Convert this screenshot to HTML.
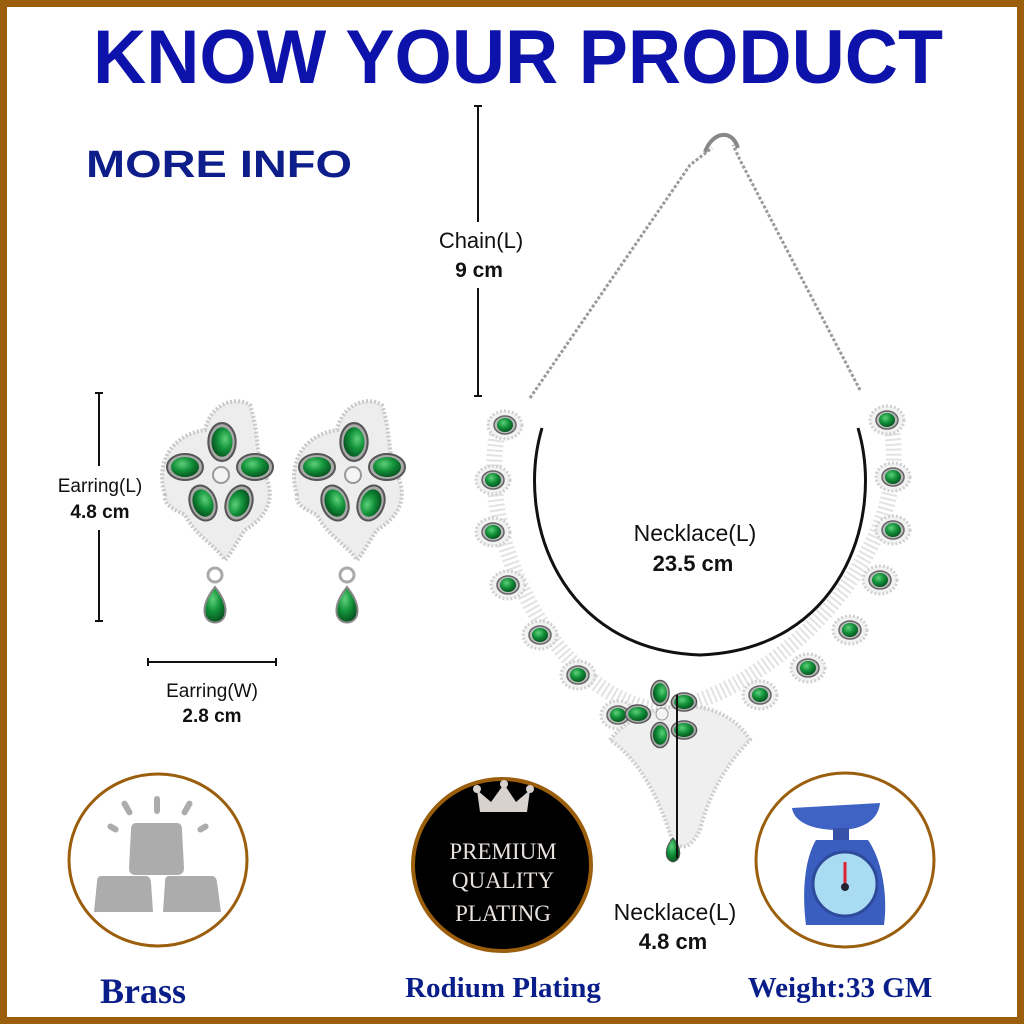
<!DOCTYPE html>
<html><head><meta charset="utf-8"><style>
html,body{margin:0;padding:0;background:#fff}
svg{display:block}
</style></head><body>
<svg width="1024" height="1024" viewBox="0 0 1024 1024" xmlns="http://www.w3.org/2000/svg">
<defs>
<radialGradient id="g" cx="40%" cy="35%" r="70%"><stop offset="0" stop-color="#5fd07a"/><stop offset="0.5" stop-color="#12913a"/><stop offset="1" stop-color="#064d1c"/></radialGradient>
<g id="pd"><ellipse cx="0" cy="0" rx="17" ry="14" fill="#f2f2f2" stroke="#d0d0d0" stroke-width="3" stroke-dasharray="2 2"/><ellipse cx="0" cy="0" rx="11" ry="9" fill="#bbb" stroke="#666" stroke-width="1.5"/><ellipse cx="0" cy="0" rx="8" ry="7" fill="url(#g)"/></g>
<g id="ptl"><ellipse cx="0" cy="0" rx="18" ry="13" fill="#aaa" stroke="#555" stroke-width="2"/><ellipse cx="0" cy="0" rx="14" ry="10" fill="url(#g)"/></g>
<g id="ear">
<path d="M-60,20 C-70,-10 -55,-40 -20,-45 C-15,-70 10,-80 25,-70 C35,-40 30,-20 40,0 C50,20 45,40 20,55 C10,70 5,80 0,85 C-10,70 -30,60 -40,40 C-50,35 -62,30 -60,20Z" fill="#ededed" stroke="#c8c8c8" stroke-width="4" stroke-dasharray="2 2"/>
<use href="#ptl" transform="translate(-3,-33) rotate(90) scale(1.05)"/>
<use href="#ptl" transform="translate(-40,-8)"/>
<use href="#ptl" transform="translate(30,-8)"/>
<use href="#ptl" transform="translate(-22,28) rotate(70)"/>
<use href="#ptl" transform="translate(14,28) rotate(-70)"/>
<circle cx="-4" cy="0" r="8" fill="#f4f4f4" stroke="#999" stroke-width="2"/>
<circle cx="-10" cy="100" r="7" fill="none" stroke="#aaa" stroke-width="3"/>
<path d="M-10,112 C-18,122 -22,132 -20,140 C-17,150 -3,150 0,140 C2,132 -2,122 -10,112Z" fill="url(#g)" stroke="#888" stroke-width="2"/>
</g>
</defs>
<rect x="3.5" y="3.5" width="1017" height="1017" fill="#fff" stroke="#9a5e0c" stroke-width="7"/>
<text x="518" y="83" text-anchor="middle" font-family="Liberation Sans, sans-serif" font-weight="bold" font-size="76" fill="#0d12aa" textLength="850" lengthAdjust="spacingAndGlyphs">KNOW YOUR PRODUCT</text>
<text x="86" y="177" font-family="Liberation Sans, sans-serif" font-weight="bold" font-size="38" fill="#0d1d8a" textLength="266" lengthAdjust="spacingAndGlyphs">MORE  INFO</text>

<g stroke="#111" stroke-width="2">
<line x1="478" y1="106" x2="478" y2="222"/><line x1="478" y1="288" x2="478" y2="396"/><line x1="474" y1="106" x2="482" y2="106"/><line x1="474" y1="396" x2="482" y2="396"/>
<line x1="99" y1="393" x2="99" y2="466"/><line x1="99" y1="530" x2="99" y2="621"/><line x1="95" y1="393" x2="103" y2="393"/><line x1="95" y1="621" x2="103" y2="621"/>
<line x1="148" y1="662" x2="276" y2="662"/><line x1="148" y1="658" x2="148" y2="666"/><line x1="276" y1="658" x2="276" y2="666"/>
</g>
<g font-family="Liberation Sans, sans-serif" fill="#111" text-anchor="middle">
<text x="481" y="248" font-size="22">Chain(L)</text><text x="479" y="277" font-size="21" font-weight="bold">9 cm</text>
<text x="100" y="492" font-size="19">Earring(L)</text><text x="100" y="518" font-size="19" font-weight="bold">4.8 cm</text>
<text x="212" y="697" font-size="19">Earring(W)</text><text x="212" y="722" font-size="19" font-weight="bold">2.8 cm</text>
<text x="695" y="541" font-size="23">Necklace(L)</text><text x="693" y="571" font-size="22" font-weight="bold">23.5 cm</text>
<text x="675" y="920" font-size="23">Necklace(L)</text><text x="673" y="949" font-size="22" font-weight="bold">4.8 cm</text>
</g>

<use href="#ear" transform="translate(225,475)"/>
<use href="#ear" transform="translate(357,475)"/>

<g fill="none" stroke="#9a9a9a" stroke-width="3" stroke-dasharray="3 2">
<path d="M530,398 L690,165 L712,148"/>
<path d="M860,390 L740,160 L733,145"/>
</g>
<path d="M705,152 C712,132 732,128 738,148" fill="none" stroke="#888" stroke-width="4"/>
<path d="M542,428 C515,520 560,650 700,655 C840,650 885,520 858,428" fill="none" stroke="#111" stroke-width="3"/>
<path d="M500,420 C470,540 560,700 660,710 C760,700 920,560 890,420" fill="none" stroke="#e2e2e2" stroke-width="16" stroke-dasharray="2 3"/>
<use href="#pd" transform="translate(505,425)"/>
<use href="#pd" transform="translate(493,480)"/>
<use href="#pd" transform="translate(493,532)"/>
<use href="#pd" transform="translate(508,585)"/>
<use href="#pd" transform="translate(540,635)"/>
<use href="#pd" transform="translate(578,675)"/>
<use href="#pd" transform="translate(618,715)"/>
<use href="#pd" transform="translate(760,695)"/>
<use href="#pd" transform="translate(808,668)"/>
<use href="#pd" transform="translate(850,630)"/>
<use href="#pd" transform="translate(880,580)"/>
<use href="#pd" transform="translate(893,530)"/>
<use href="#pd" transform="translate(893,477)"/>
<use href="#pd" transform="translate(887,420)"/>
<path d="M610,740 C640,700 720,690 750,740 C730,760 710,790 700,830 C690,850 680,850 672,840 C660,800 640,760 610,740Z" fill="#efefef" stroke="#cfcfcf" stroke-width="4" stroke-dasharray="2 2"/>
<use href="#ptl" transform="translate(660,693) rotate(90) scale(0.7)"/>
<use href="#ptl" transform="translate(638,714) scale(0.7)"/>
<use href="#ptl" transform="translate(684,702) scale(0.7)"/>
<use href="#ptl" transform="translate(660,735) rotate(90) scale(0.7)"/>
<use href="#ptl" transform="translate(684,730) scale(0.7)"/>
<circle cx="662" cy="714" r="6" fill="#f4f4f4" stroke="#999"/>
<path d="M673,838 C664,848 664,860 673,862 C682,860 682,848 673,838Z" fill="url(#g)" stroke="#555"/>
<line x1="677" y1="695" x2="677" y2="858" stroke="#111" stroke-width="2"/>

<ellipse cx="158" cy="860" rx="89" ry="86" fill="#fff" stroke="#9a5e0c" stroke-width="3"/>
<g fill="#acacac">
<path d="M136,823 L177,823 Q182,823 182,830 L184,868 Q184,875 177,875 L136,875 Q129,875 129,868 L131,830 Q131,823 136,823Z" fill="#acacac"/>
<path d="M101,876 L146,876 Q150,876 151,882 L153,912 L94,912 L97,882 Q97,876 101,876Z" fill="#acacac"/>
<path d="M169,876 L212,876 Q216,876 217,882 L221,912 L163,912 L165,882 Q165,876 169,876Z" fill="#acacac"/>
<rect x="124" y="800" width="6" height="16" rx="3" transform="rotate(-30 127 808)"/>
<rect x="154" y="796" width="6" height="18" rx="3"/>
<rect x="184" y="800" width="6" height="16" rx="3" transform="rotate(30 187 808)"/>
<rect x="110" y="822" width="6" height="12" rx="3" transform="rotate(-60 113 828)"/>
<rect x="200" y="822" width="6" height="12" rx="3" transform="rotate(60 203 828)"/>
</g>
<ellipse cx="502" cy="865" rx="89" ry="86" fill="#000" stroke="#9a5e0c" stroke-width="4"/>
<path d="M480,812 L477,790 L491,802 L504,784 L516,802 L530,790 L527,812Z" fill="#d8d2cf"/>
<circle cx="477" cy="789" r="4" fill="#d8d2cf"/><circle cx="504" cy="784" r="4" fill="#d8d2cf"/><circle cx="530" cy="789" r="4" fill="#d8d2cf"/>
<g font-family="Liberation Serif, serif" fill="#e8e2df" text-anchor="middle" font-size="23">
<text x="503" y="859">PREMIUM</text><text x="503" y="888">QUALITY</text><text x="503" y="921">PLATING</text>
</g>
<ellipse cx="845" cy="860" rx="89" ry="87" fill="#fff" stroke="#9a5e0c" stroke-width="3"/>
<path d="M792,808 L880,803 C878,822 860,830 838,830 C812,830 794,822 792,808Z" fill="#3f63c4"/>
<rect x="833" y="828" width="16" height="12" fill="#3552a8"/>
<path d="M816,840 L868,840 C882,860 888,895 884,925 L806,925 C802,895 804,860 816,840Z" fill="#3a5ec0"/>
<circle cx="845" cy="884" r="32" fill="#a9dcf2" stroke="#2e4a9c" stroke-width="3"/>
<line x1="845" y1="862" x2="845" y2="887" stroke="#d23" stroke-width="3"/><circle cx="845" cy="887" r="4" fill="#223"/>

<g font-family="Liberation Serif, serif" font-weight="bold" fill="#0a1e8a" text-anchor="middle">
<text x="143" y="1003" font-size="36">Brass</text>
<text x="503" y="997" font-size="29">Rodium Plating</text>
<text x="840" y="997" font-size="29">Weight:33 GM</text>
</g>
</svg>
</body></html>
